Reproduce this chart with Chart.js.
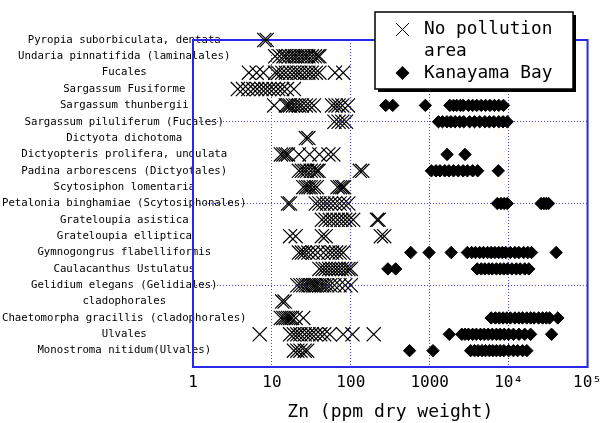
<!DOCTYPE html>
<html>
<head>
<meta charset="utf-8">
<script src="https://cdn.jsdelivr.net/npm/chart.js@4/dist/chart.umd.min.js"></script>
<style>
  html, body { margin: 0; padding: 0; background: #fff; }
  #wrap { width: 608px; height: 423px; position: relative; }
</style>
</head>
<body>
<div id="wrap"><canvas id="zn"></canvas></div>
<script>
// species, top to bottom
const species = [
    'Pyropia suborbiculata, dentata',
    'Undaria pinnatifida (laminalales)',
    'Fucales',
    'Sargassum Fusiforme',
    'Sargassum thunbergii',
    'Sargassum piluliferum (Fucales)',
    'Dictyota dichotoma',
    'Dictyopteris prolifera, undulata',
    'Padina arborescens (Dictyotales)',
    'Scytosiphon lomentaria',
    'Petalonia binghamiae (Scytosiphonales)',
    'Grateloupia asistica',
    'Grateloupia elliptica',
    'Gymnogongrus flabelliformis',
    'Caulacanthus Ustulatus',
    'Gelidium elegans (Gelidiales)',
    'cladophorales',
    'Chaetomorpha gracillis (cladophorales)',
    'Ulvales',
    'Monostroma nitidum(Ulvales)'
];

// Zn ppm dry weight, one list per species
const noPollution = [
    [8.0, 8.6],
    [11, 12.5, 14, 15, 16.5, 18, 19.5, 21, 23, 25, 27, 29, 32, 35, 38, 40],
    [5.1, 6.4, 7.8, 11, 12, 13.5, 15, 17, 19, 21, 23, 26, 29, 32, 36, 40, 63, 80],
    [3.7, 4.3, 5, 5.8, 6.5, 7.4, 8.3, 9.3, 10.5, 12, 13.5, 15.5, 19],
    [10.7, 15, 16, 17, 18.5, 20, 22, 24, 27, 30, 34, 58, 64, 70, 78, 92],
    [62, 70, 78, 87],
    [27, 29],
    [13, 14, 15, 16, 22, 30, 40, 52, 60],
    [22, 24, 26, 28, 31, 34, 37, 39, 130, 140],
    [25, 27, 29, 31, 34, 37, 68, 73, 78, 82],
    [16, 17, 36, 40, 45, 50, 56, 63, 72, 82, 93],
    [43, 48, 54, 60, 68, 76, 85, 95, 107, 215, 225],
    [17, 20, 43, 48, 240, 265],
    [22, 24, 26, 29, 33, 38, 45, 52, 58, 65, 72, 80],
    [40, 44, 48, 53, 58, 64, 70, 77, 85, 93, 100],
    [21, 23, 25, 27, 29, 31, 33, 35, 37, 40, 43, 46, 50, 55, 62, 72, 85, 100],
    [13.5, 14.5],
    [13, 14, 15, 16, 17, 18, 20, 25],
    [7, 17, 19, 21, 23, 26, 29, 32, 36, 41, 46, 54, 80, 105, 195],
    [19, 21, 23, 26, 28]
];

const kanayama = [
    [], [], [], [],
    [277, 340, 880, 1800, 2000, 2200, 2450, 2650, 3100, 3500, 3950, 4500, 5100, 5800, 6600, 7500, 8600],
    [1290, 1450, 1650, 1850, 2100, 2400, 2700, 3200, 3700, 4300, 5000, 5700, 6500, 7500, 8500, 9600],
    [],
    [1660, 2800],
    [1050, 1200, 1350, 1550, 1750, 2000, 2300, 2650, 3000, 3500, 4050, 7400],
    [],
    [7200, 8000, 8800, 9600, 25800, 28000, 30000, 32000],
    [], [],
    [575, 980, 1870, 3000, 3400, 3800, 4300, 4800, 5400, 6000, 6700, 7500, 8300, 9200, 10500, 12000, 13500, 15500, 17500, 19500, 40000],
    [295, 370, 4000, 4500, 5000, 5600, 6200, 7000, 7800, 8700, 9700, 11000, 12500, 14000, 16000, 18000],
    [], [],
    [6000, 6800, 7600, 8500, 9500, 10500, 12000, 13500, 15000, 17000, 19000, 21000, 24000, 27000, 30000, 33000, 42000],
    [1770, 2550, 2800, 3100, 3500, 3900, 4400, 4900, 5500, 6200, 7000, 7800, 8800, 10000, 11500, 13500, 16000, 19000, 35000],
    [555, 1100, 3300, 3700, 4100, 4600, 5100, 5700, 6300, 7000, 7800, 8700, 10000, 11500, 13000, 15000, 17000]
];

const xTicks = [1, 10, 100, 1000, 1e4, 1e5];
const xTickLabels = ['1', '10', '100', '1000', '10⁴', '10⁵'];
const seriesNames = ['No pollution area', 'Kanayama Bay'];

const blue = 'rgb(40, 40, 230)';
const dotBlue = 'rgb(70, 70, 240)';
const mono = "'DejaVu Sans Mono', monospace";

const toPoints = rows => rows.flatMap((vals, i) => vals.map(v => ({ x: v, y: i + 1 })));

// plot frame on all four sides
const frame = {
    id: 'frame',
    beforeDatasetsDraw(chart) {
        const { ctx, chartArea: a } = chart;
        ctx.save();
        ctx.strokeStyle = blue;
        ctx.lineWidth = 2;
        ctx.strokeRect(a.left, a.top, a.right - a.left, a.bottom - a.top);
        ctx.restore();
    }
};

// boxed legend with drop shadow
const boxLegend = {
    id: 'boxLegend',
    afterDraw(chart) {
        const ctx = chart.ctx;
        const x = 375, y = 12, w = 198, h = 77;
        ctx.save();
        ctx.fillStyle = '#000';
        ctx.fillRect(x + 3, y + 3, w, h);
        ctx.fillStyle = '#fff';
        ctx.fillRect(x, y, w, h);
        ctx.strokeStyle = '#000';
        ctx.lineWidth = 1.5;
        ctx.strokeRect(x, y, w, h);

        // cross marker
        ctx.lineWidth = 1;
        ctx.beginPath();
        ctx.moveTo(396, 23); ctx.lineTo(409, 36);
        ctx.moveTo(409, 23); ctx.lineTo(396, 36);
        ctx.stroke();
        // diamond marker
        ctx.fillStyle = '#000';
        ctx.beginPath();
        ctx.moveTo(402.5, 66); ctx.lineTo(409.5, 73);
        ctx.lineTo(402.5, 80); ctx.lineTo(395.5, 73);
        ctx.closePath();
        ctx.fill();

        ctx.font = '17.8px ' + mono;
        ctx.textBaseline = 'middle';
        ctx.textAlign = 'left';
        ctx.fillText('No pollution', 424, 29);
        ctx.fillText('area', 424, 51);
        ctx.fillText(seriesNames[1], 424, 73);
        ctx.restore();
    }
};

new Chart(document.getElementById('zn'), {
    type: 'scatter',
    data: {
        datasets: [
            {
                label: seriesNames[0],
                data: toPoints(noPollution),
                pointStyle: 'crossRot',
                pointRadius: 10,
                borderColor: '#000',
                borderWidth: 1.2,
                backgroundColor: 'transparent',
                clip: false
            },
            {
                label: seriesNames[1],
                data: toPoints(kanayama),
                pointStyle: 'rectRot',
                pointRadius: 6.2,
                borderColor: '#000',
                borderWidth: 1,
                backgroundColor: '#000',
                clip: false
            }
        ]
    },
    options: {
        responsive: true,
        maintainAspectRatio: false,
        animation: false,
        events: [],
        layout: { padding: { top: 40, right: 16, bottom: 0, left: 0 } },
        plugins: {
            legend: { display: false },
            tooltip: { enabled: false }
        },
        scales: {
            x: {
                type: 'logarithmic',
                position: 'bottom',
                min: 1,
                max: 1e5,
                afterBuildTicks: s => { s.ticks = xTicks.map(v => ({ value: v })); },
                afterFit: s => { s.height = 56; },
                ticks: {
                    autoSkip: false,
                    maxRotation: 0,
                    padding: 6,
                    color: '#000',
                    font: { family: mono, size: 16 },
                    callback: (v) => xTickLabels[xTicks.indexOf(v)] ?? ''
                },
                grid: { color: dotBlue, drawTicks: false, lineWidth: 1 },
                border: { display: false, dash: [1, 2] },
                title: {
                    display: true,
                    text: 'Zn (ppm dry weight)',
                    color: '#000',
                    font: { family: mono, size: 18 },
                    padding: { top: 0, bottom: 0 }
                }
            },
            y: {
                type: 'linear',
                reverse: true,
                min: 1,
                max: 21,
                afterFit: s => { s.width = 193; },
                ticks: {
                    stepSize: 1,
                    autoSkip: false,
                    mirror: true,
                    crossAlign: 'center',
                    padding: -191,
                    color: '#000',
                    font: { family: mono, size: 10.7 },
                    callback: (v) => species[v - 1] ?? ''
                },
                grid: {
                    color: c => (c.tick && (c.tick.value - 1) % 5 === 0) ? dotBlue : 'transparent',
                    drawTicks: false,
                    lineWidth: 1
                },
                border: { display: false, dash: [1, 2] }
            }
        }
    },
    plugins: [frame, boxLegend]
});
</script>
</body>
</html>
